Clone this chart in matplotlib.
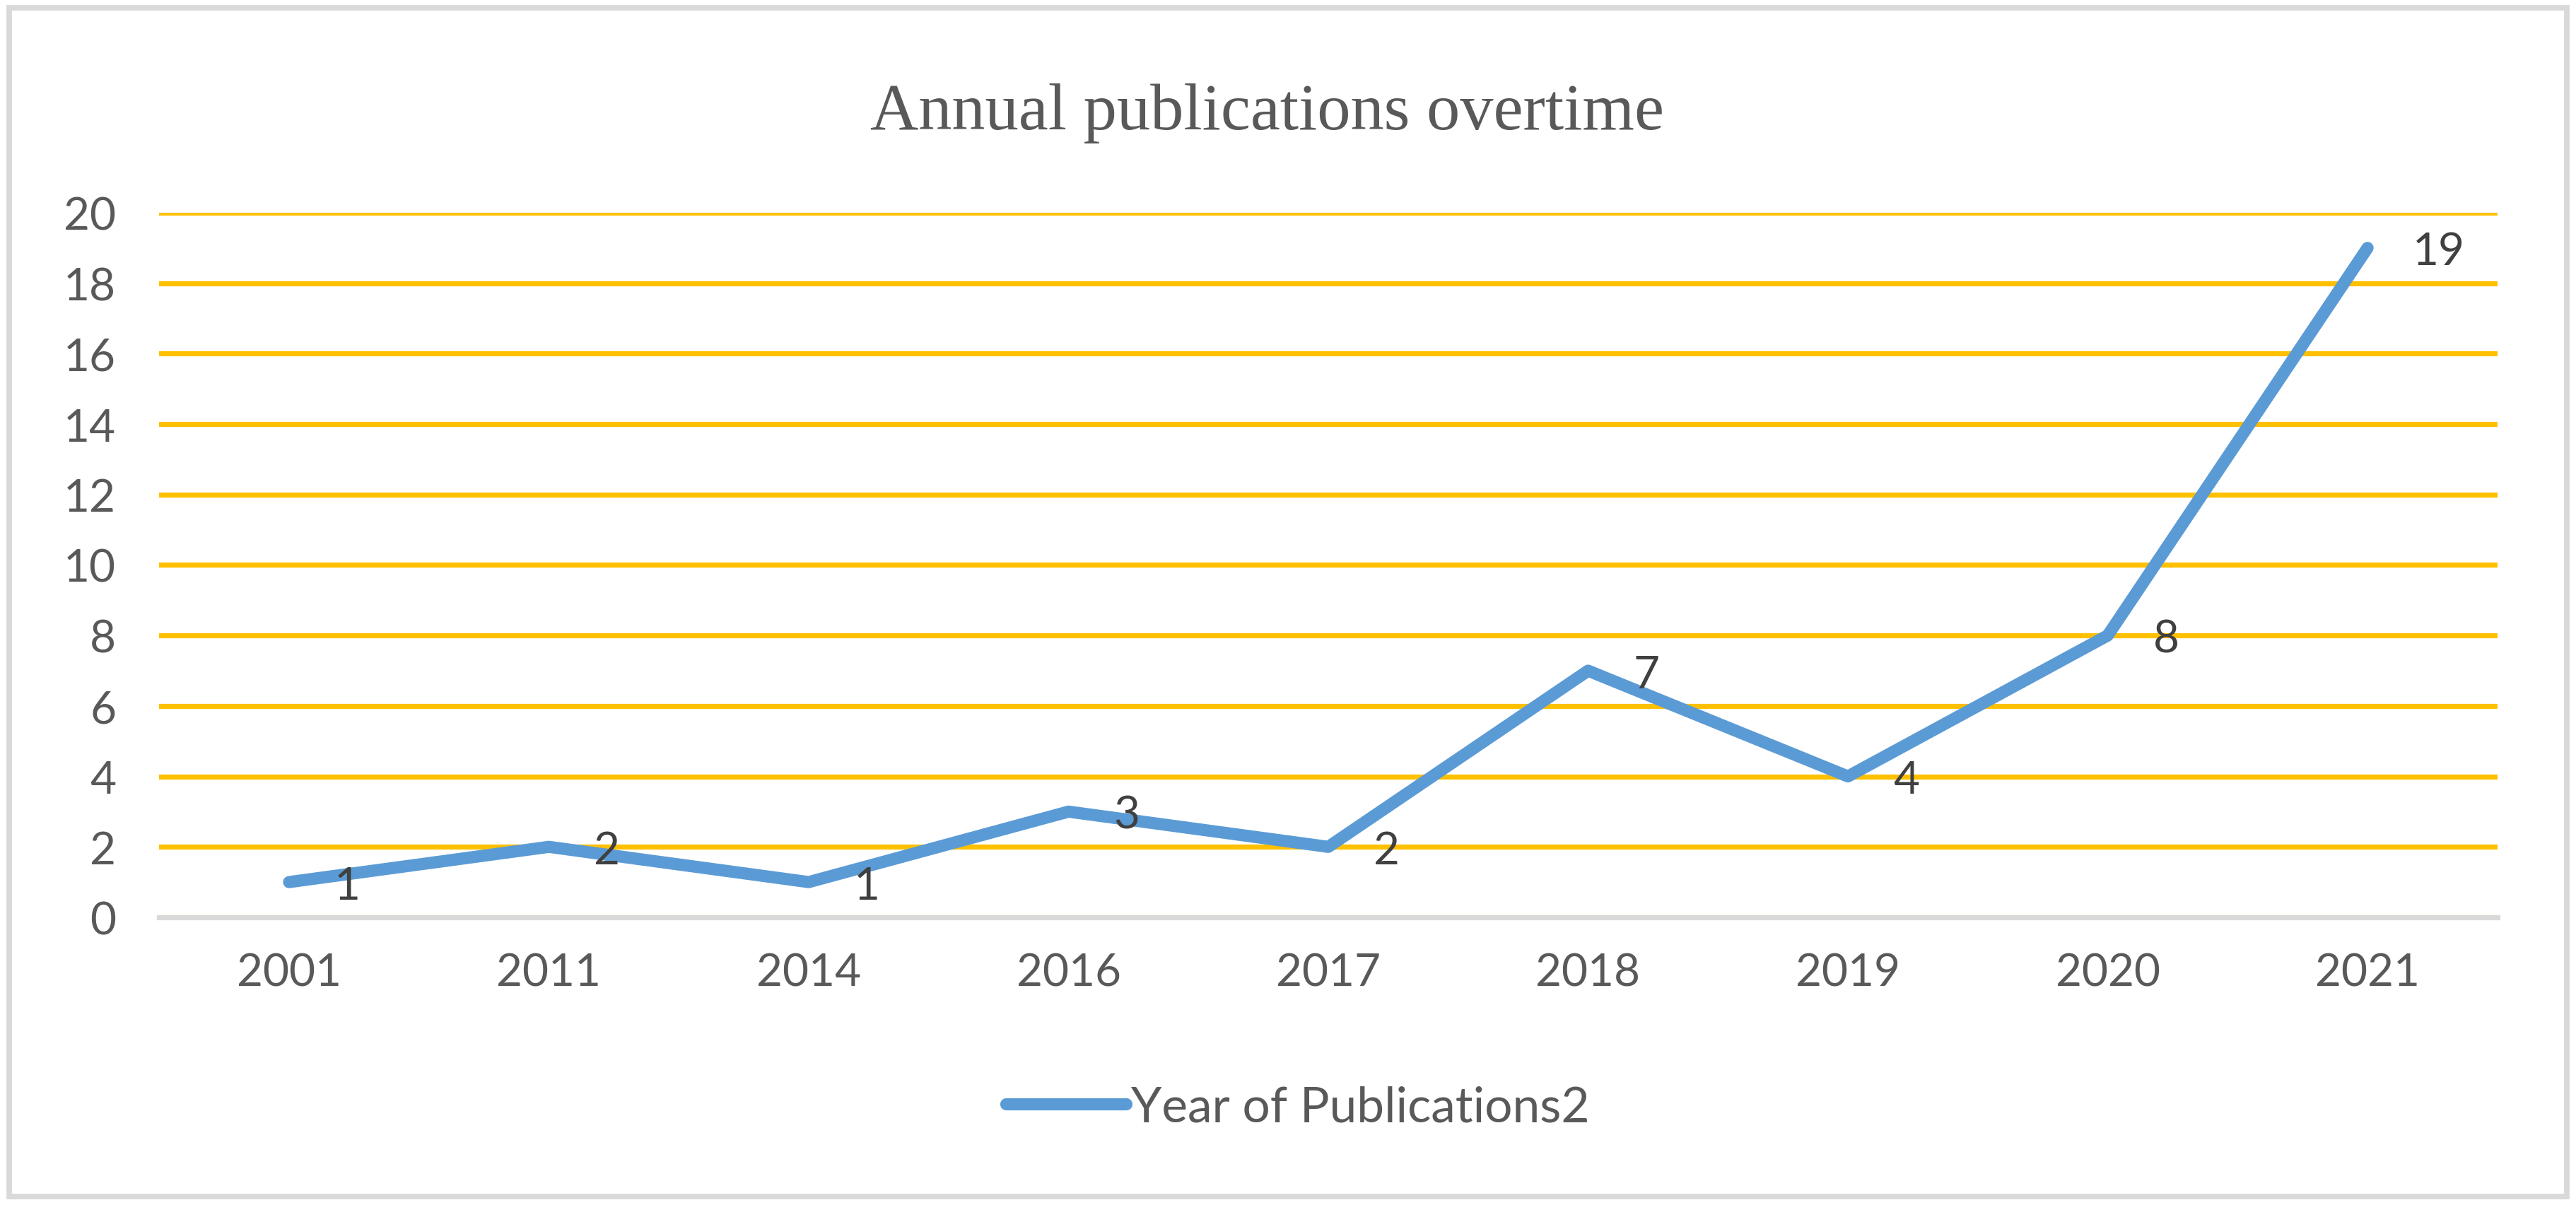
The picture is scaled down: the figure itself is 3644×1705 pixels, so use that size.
import matplotlib
matplotlib.use("Agg")
import matplotlib.pyplot as plt
from matplotlib.patches import Rectangle

# data
years = ["2001", "2011", "2014", "2016", "2017", "2018", "2019", "2020", "2021"]
counts = [1, 2, 1, 3, 2, 7, 4, 8, 19]
series_name = "Year of Publications2"
title = "Annual publications overtime"

plt.rcParams['font.family'] = ['Lato', 'DejaVu Sans']

fig = plt.figure(figsize=(18.22, 8.53), dpi=200)
ax = fig.add_axes([0.0618, 0.2386, 0.9077, 0.5844])

x = range(len(years))
ax.plot(x, counts, color='#5B9BD5', lw=6.2, solid_capstyle='round',
        label=series_name, zorder=3)

# data labels to the right of each point
for xi, v in zip(x, counts):
    ax.annotate(str(v), (xi, v), xytext=(23, -2), textcoords='offset points',
                ha='left', va='center', fontsize=23, color='#404040', zorder=4)

ax.set_xlim(-0.5, len(years) - 0.5)
ax.set_ylim(0, 20)
ax.set_yticks(range(0, 21, 2))
ax.set_xticks(list(x))
ax.set_xticklabels(years)
ax.tick_params(axis='both', length=0, labelsize=23, colors='#595959')
ax.tick_params(axis='y', pad=22)
ax.tick_params(axis='x', pad=18)

ax.grid(axis='y', color='#FFC000', lw=2.6, zorder=1)
ax.set_axisbelow(True)
for s in ['top', 'right', 'left']:
    ax.spines[s].set_visible(False)
ax.spines['bottom'].set_color('#D9D9D9')
ax.spines['bottom'].set_linewidth(2.6)
ax.spines['bottom'].set_zorder(2)

fig.text(0.492, 0.906, title, ha='center', va='center', fontsize=34,
         family='Liberation Serif', color='#595959')

leg = ax.legend(loc='center', bbox_to_anchor=(0.487, -0.27), frameon=False,
                fontsize=25, handlelength=2.45, handletextpad=0.1)
for t in leg.get_texts():
    t.set_color('#595959')

# outer chart border
fig.patches.append(Rectangle((0.0035, 0.007), 0.993, 0.986, transform=fig.transFigure,
                             fill=False, edgecolor='#D9D9D9', lw=2.8))

fig.savefig("out.png", dpi=200)
